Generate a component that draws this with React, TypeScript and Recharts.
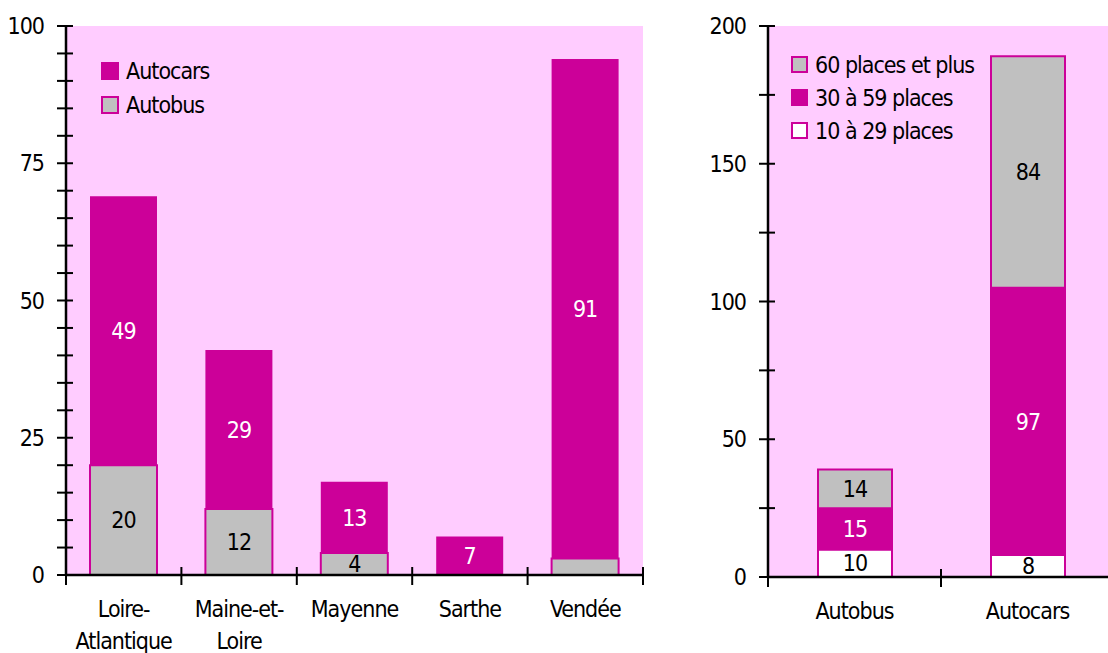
import React from 'react';
import { BarChart, Bar, XAxis, YAxis, CartesianGrid, LabelList, Legend } from 'recharts';

// left chart: vehicles by département
const departements = ['Loire-Atlantique', 'Maine-et-Loire', 'Mayenne', 'Sarthe', 'Vendée'];
const autobusValues = [20, 12, 4, 0, 3];
const autocarsValues = [49, 29, 13, 7, 91];
const leftTicks = [0, 5, 10, 15, 20, 25, 30, 35, 40, 45, 50, 55, 60, 65, 70, 75, 80, 85, 90, 95, 100];

// right chart: vehicles by seat count
const vehicleTypes = ['Autobus', 'Autocars'];
const places10to29 = [10, 8];
const places30to59 = [15, 97];
const places60plus = [14, 84];
const rightTicks = [0, 25, 50, 75, 100, 125, 150, 175, 200];

const PINK = '#ffccff';
const MAGENTA = '#cc0099';
const GRAY = '#c0c0c0';
const FONT = "'DejaVu Sans Condensed', 'DejaVu Sans', sans-serif";
const FS = 23;

const leftData = departements.map((d, i) => ({ name: d, autobus: autobusValues[i], autocars: autocarsValues[i] }));
const rightData = vehicleTypes.map((t, i) => ({ name: t, p10: places10to29[i], p30: places30to59[i], p60: places60plus[i] }));

const YTick = (props: any) => {
    const { x, y, payload, major } = props;
    const v = payload.value;
    return (
        <g>
            <line x1={x - 9} x2={x + 7} y1={y} y2={y} stroke="#000" strokeWidth={2} />
            {v % major === 0 && (
                <text x={x - 22} y={y} dy="0.35em" textAnchor="end" fill="#000">{v}</text>
            )}
        </g>
    );
};

const XTick = (props: any) => {
    const { x, y, payload, index, band, count } = props;
    const label: string = payload.value;
    const cut = label.lastIndexOf('-');
    const lines = cut > 0 ? [label.slice(0, cut + 1), label.slice(cut + 1)] : [label];
    return (
        <g>
            <line x1={x - band / 2} x2={x - band / 2} y1={y - 8} y2={y + 10} stroke="#000" strokeWidth={2} />
            {index === count - 1 && (
                <line x1={x + band / 2} x2={x + band / 2} y1={y - 8} y2={y + 10} stroke="#000" strokeWidth={2} />
            )}
            {lines.map((l, i) => (
                <text key={i} x={x} y={y + 42 + i * 32} textAnchor="middle" fill="#000">{l}</text>
            ))}
        </g>
    );
};

const LegendBox = ({ items, rowH, box }: { items: { label: string; fill: string }[]; rowH: number; box: number }) => (
    <div style={{ fontFamily: FONT, fontStretch: 'condensed', fontSize: FS, letterSpacing: -1, color: '#000' }}>
        {items.map((it) => (
            <div key={it.label} style={{ display: 'flex', alignItems: 'center', height: rowH, whiteSpace: 'nowrap' }}>
                <span style={{ boxSizing: 'border-box', width: box, height: box, background: it.fill, border: `2px solid ${MAGENTA}`, marginRight: 7, display: 'inline-block' }} />
                {it.label}
            </div>
        ))}
    </div>
);

const hideSmall = (v: any) => (Number(v) > 3 ? v : '');

export default function App() {
    return (
        <div style={{ position: 'fixed', left: 0, top: 0, width: 1108, height: 653, overflow: 'hidden', background: '#fff' }}>
            <style>{`svg text { font-family: ${FONT}; font-stretch: condensed; font-size: ${FS}px; letter-spacing: -1px; }`}</style>
            {/* Left chart */}
            <div style={{ position: 'absolute', left: 0, top: 0 }}>
                <BarChart width={660} height={653} data={leftData} margin={{ top: 26, right: 17, bottom: 0, left: 0 }} barCategoryGap={0}>
                    <CartesianGrid fill={PINK} stroke="none" horizontal={false} vertical={false} />
                    <XAxis
                        dataKey="name"
                        height={78}
                        tickSize={0}
                        tickMargin={0}
                        tickLine={false}
                        interval={0}
                        axisLine={{ stroke: '#000', strokeWidth: 2.5 }}
                        tick={<XTick band={577 / departements.length} count={departements.length} />}
                    />
                    <YAxis
                        width={66}
                        domain={[0, 100]}
                        ticks={leftTicks}
                        interval={0}
                        tickSize={0}
                        tickMargin={0}
                        tickLine={false}
                        axisLine={{ stroke: '#000', strokeWidth: 2.5 }}
                        tick={<YTick major={25} />}
                    />
                    <Legend
                        layout="vertical"
                        align="center"
                        verticalAlign="middle"
                        wrapperStyle={{ left: 101, top: 54, width: 'auto', height: 'auto' }}
                        content={() => (
                            <LegendBox
                                rowH={34}
                                box={18}
                                items={[{ label: 'Autocars', fill: MAGENTA }, { label: 'Autobus', fill: GRAY }]}
                            />
                        )}
                    />
                    <Bar dataKey="autobus" stackId="a" fill={GRAY} stroke={MAGENTA} strokeWidth={2} barSize={67} isAnimationActive={false}>
                        <LabelList dataKey="autobus" position="center" fill="#000" formatter={hideSmall} />
                    </Bar>
                    <Bar dataKey="autocars" stackId="a" fill={MAGENTA} barSize={67} isAnimationActive={false}>
                        <LabelList dataKey="autocars" position="center" fill="#fff" formatter={hideSmall} />
                    </Bar>
                </BarChart>
            </div>

            {/* Right chart */}
            <div style={{ position: 'absolute', left: 680, top: 0 }}>
                <BarChart width={440} height={653} data={rightData} margin={{ top: 26, right: 6, bottom: 0, left: 0 }} barCategoryGap={0}>
                    <CartesianGrid fill={PINK} stroke="none" horizontal={false} vertical={false} />
                    <XAxis
                        dataKey="name"
                        height={76}
                        tickSize={0}
                        tickMargin={0}
                        tickLine={false}
                        interval={0}
                        axisLine={{ stroke: '#000', strokeWidth: 2.5 }}
                        tick={<XTick band={346 / vehicleTypes.length} count={vehicleTypes.length} />}
                    />
                    <YAxis
                        width={88}
                        domain={[0, 200]}
                        ticks={rightTicks}
                        interval={0}
                        tickSize={0}
                        tickMargin={0}
                        tickLine={false}
                        axisLine={{ stroke: '#000', strokeWidth: 2.5 }}
                        tick={<YTick major={50} />}
                    />
                    <Legend
                        layout="vertical"
                        align="center"
                        verticalAlign="middle"
                        wrapperStyle={{ left: 111, top: 48, width: 'auto', height: 'auto' }}
                        content={() => (
                            <LegendBox
                                rowH={33}
                                box={17}
                                items={[
                                    { label: '60 places et plus', fill: GRAY },
                                    { label: '30 à 59 places', fill: MAGENTA },
                                    { label: '10 à 29 places', fill: '#fff' },
                                ]}
                            />
                        )}
                    />
                    <Bar dataKey="p10" stackId="b" fill="#fff" stroke={MAGENTA} strokeWidth={2} barSize={74} isAnimationActive={false}>
                        <LabelList dataKey="p10" position="center" fill="#000" />
                    </Bar>
                    <Bar dataKey="p30" stackId="b" fill={MAGENTA} stroke={MAGENTA} strokeWidth={2} barSize={74} isAnimationActive={false}>
                        <LabelList dataKey="p30" position="center" fill="#fff" />
                    </Bar>
                    <Bar dataKey="p60" stackId="b" fill={GRAY} stroke={MAGENTA} strokeWidth={2} barSize={74} isAnimationActive={false}>
                        <LabelList dataKey="p60" position="center" fill="#000" />
                    </Bar>
                </BarChart>
            </div>
        </div>
    );
}
